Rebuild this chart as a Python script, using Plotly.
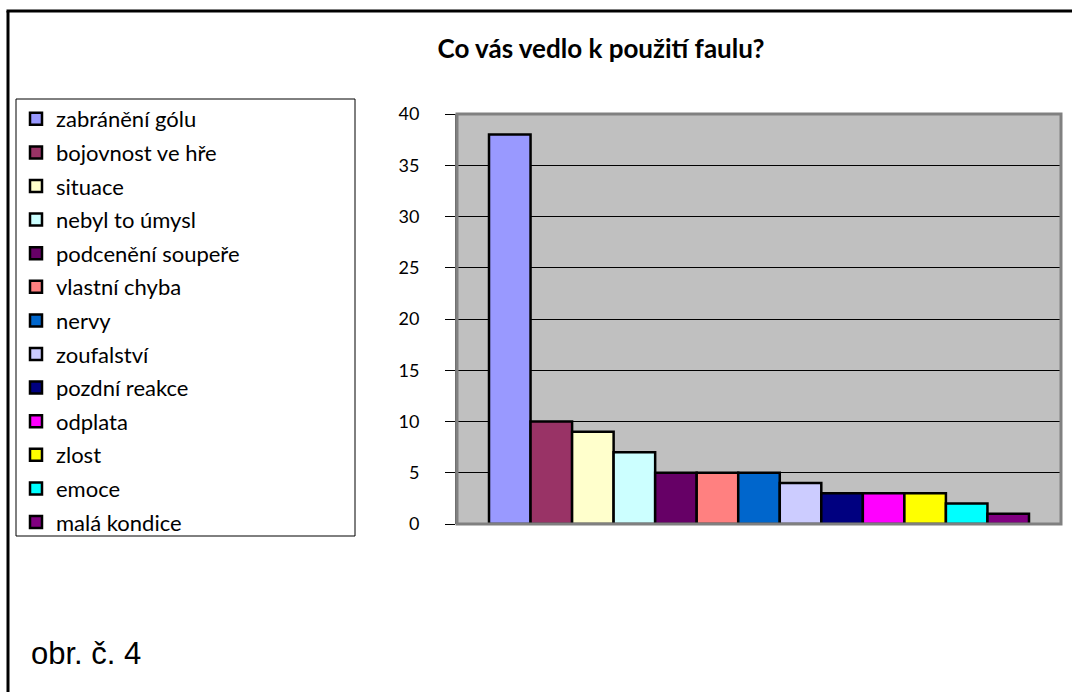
import plotly.graph_objects as go

categories = ["zabránění gólu", "bojovnost ve hře", "situace", "nebyl to úmysl",
              "podcenění soupeře", "vlastní chyba", "nervy", "zoufalství",
              "pozdní reakce", "odplata", "zlost", "emoce", "malá kondice"]
values = [38, 10, 9, 7, 5, 5, 5, 4, 3, 3, 3, 2, 1]
colors = ["#9999FF", "#993366", "#FFFFCC", "#CCFFFF", "#660066", "#FF8080",
          "#0066CC", "#CCCCFF", "#000080", "#FF00FF", "#FFFF00", "#00FFFF", "#800080"]
y_ticks = [0, 5, 10, 15, 20, 25, 30, 35, 40]

W, H = 1072, 692
L, R, T, B = 457, 11, 114, 168
pw = W - L - R
ph = H - T - B


def px(xpix):
    return (xpix - L) / pw


def py(ypix):
    return (H - B - ypix) / ph


fig = go.Figure()
for i, (name, v, c) in enumerate(zip(categories, values, colors)):
    fig.add_trace(go.Bar(
        x=[""], y=[v], name=name, legendgroup=str(i),
        marker=dict(color=c, line=dict(color="black", width=2.5)),
    ))

fig.update_layout(
    width=W, height=H,
    margin=dict(l=L, r=R, t=T, b=B, pad=0),
    paper_bgcolor="white", plot_bgcolor="#C0C0C0",
    barmode="group", bargap=0.106, bargroupgap=0,
    title=dict(text="<b>Co vás vedlo k použití faulu?</b>",
               x=601 / W, xanchor="center", y=1 - 49 / H, yanchor="middle",
               font=dict(family="Lato, sans-serif", size=26, color="black")),
    showlegend=True,
    legend=dict(
        x=16 / W, xanchor="left", y=1 - 98 / H, yanchor="top",
        xref="container", yref="container",
        bgcolor="rgba(0,0,0,0)", borderwidth=0,
        font=dict(family="Lato, sans-serif", size=22, color="black"),
        tracegroupgap=2, traceorder="grouped", maxheight=650,
    ),
    xaxis=dict(showticklabels=False, showgrid=False, zeroline=False,
               showline=False, ticks=""),
    yaxis=dict(range=[0, 40], tickvals=y_ticks, ticks="outside", ticklen=10,
               tickcolor="black", tickwidth=1, ticklabelstandoff=22,
               showgrid=True, gridcolor="black", gridwidth=1,
               zeroline=False, showline=True, linecolor="#606060", linewidth=2,
               tickfont=dict(family="Lato, sans-serif", size=18, color="black")),
)

# plot area border
fig.add_shape(type="rect", xref="x domain", yref="y domain", x0=0, x1=1, y0=0, y1=1,
              line=dict(color="#808080", width=3), layer="above")
# legend box
fig.add_shape(type="rect", xref="paper", yref="paper",
              x0=px(16), x1=px(355), y0=py(536), y1=py(99),
              line=dict(color="black", width=1), fillcolor="white", layer="below")
# outer frame (top and left)
fig.add_shape(type="line", xref="paper", yref="paper",
              x0=px(8), x1=px(8), y0=py(700), y1=py(11),
              line=dict(color="black", width=3), layer="above")
fig.add_shape(type="line", xref="paper", yref="paper",
              x0=px(6.5), x1=px(1080), y0=py(11), y1=py(11),
              line=dict(color="black", width=3), layer="above")

fig.add_annotation(text="obr. č. 4", xref="paper", yref="paper",
                   x=px(29), xanchor="left",
                   y=py(653), yanchor="middle",
                   showarrow=False,
                   font=dict(family="Liberation Sans, Arial, sans-serif", size=31, color="black"))

fig.write_html("out.html", config={"displayModeBar": False},
               post_script="document.body.style.margin='0';")
